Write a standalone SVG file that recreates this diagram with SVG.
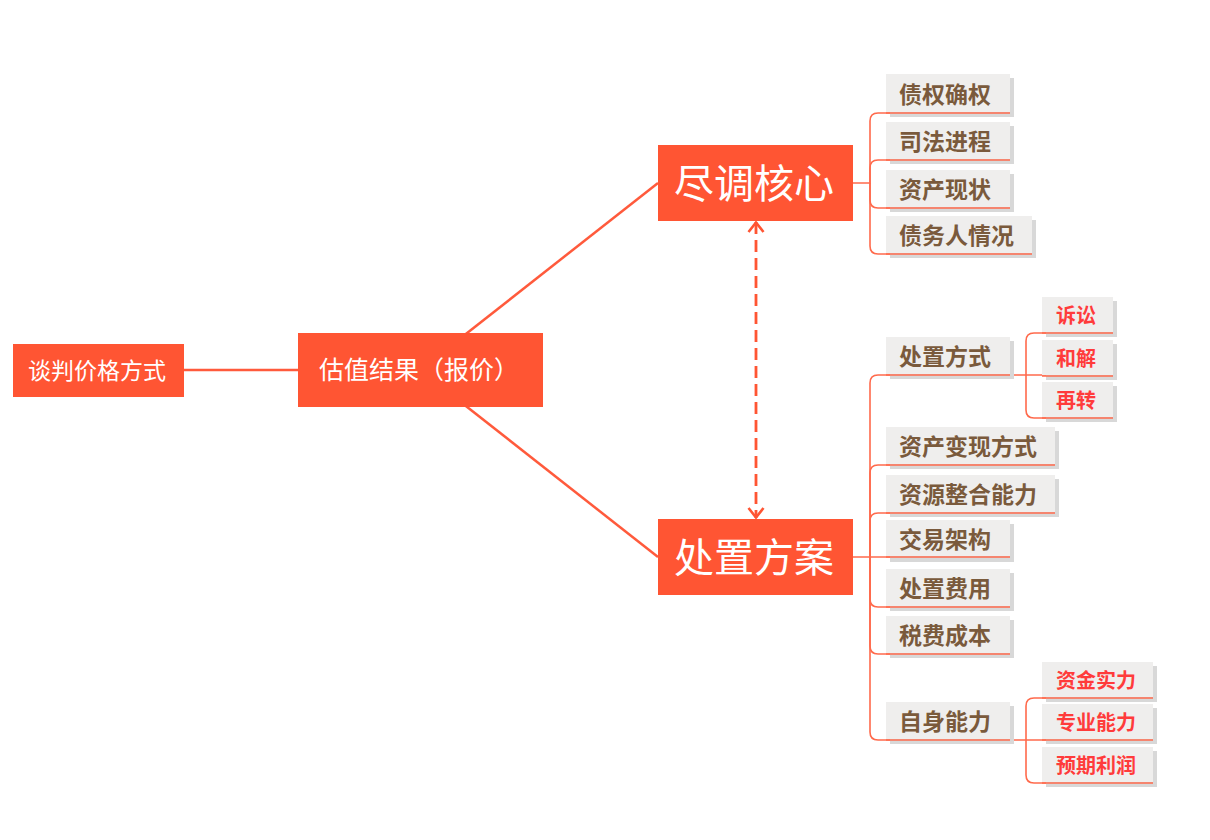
<svg xmlns="http://www.w3.org/2000/svg" width="1210" height="840" viewBox="0 0 1210 840">
<style>
.main{fill:#FF5533}
.mt{fill:#FFFFFF;font-family:"Liberation Sans","Noto Sans CJK SC",sans-serif;text-anchor:middle}
.cb{fill:#EFEEED}
.sh{fill:#D8D8D8}
.ct{fill:#7A5A3C;font-family:"Liberation Sans","Noto Sans CJK SC",sans-serif;font-size:23px;font-weight:bold}
.rt{fill:#FF3B3B;font-family:"Liberation Sans","Noto Sans CJK SC",sans-serif;font-size:20px;font-weight:bold}
.ln{fill:none;stroke:#FF5A3C;stroke-width:2.5}
.br{fill:none;stroke:#FF6A4C;stroke-width:1.6}
</style>
<defs>
<marker id="ah" viewBox="0 0 12 18" refX="11" refY="9" markerWidth="12" markerHeight="18" markerUnits="userSpaceOnUse" orient="auto-start-reverse">
<path d="M1,1.5 L10.5,9 L1,16.5" fill="none" stroke="#FF5533" stroke-width="2.6"/>
</marker>
</defs>
<rect width="1210" height="840" fill="#FFFFFF"/>
<g id="connectors">
<line class="ln" x1="184" y1="370" x2="298" y2="370"/>
<line class="ln" x1="420" y1="370" x2="658" y2="183"/>
<line class="ln" x1="420" y1="370" x2="658" y2="557"/>
<line x1="756" y1="222" x2="756" y2="518" stroke="#FF5533" stroke-width="2.8" stroke-dasharray="12,6" marker-start="url(#ah)" marker-end="url(#ah)"/>
<path class="br" d="M853,183 H870 V121 Q870,113 878,113 H1010"/>
<path class="br" d="M870,183 V168 Q870,160 878,160 H1010"/>
<path class="br" d="M870,183 V200 Q870,208 878,208 H1010"/>
<path class="br" d="M870,183 V246 Q870,254 878,254 H1032"/>
<path class="br" d="M853,557 H870 V383 Q870,375 878,375 H1026"/>
<path class="br" d="M870,557 V473 Q870,465 878,465 H1055"/>
<path class="br" d="M870,557 V521 Q870,513 878,513 H1055"/>
<path class="br" d="M870,557 H1010"/>
<path class="br" d="M870,557 V599 Q870,607 878,607 H1010"/>
<path class="br" d="M870,557 V646 Q870,654 878,654 H1010"/>
<path class="br" d="M870,557 V732 Q870,740 878,740 H1026"/>
<path class="br" d="M1026,375 V341 Q1026,333 1034,333 H1113"/>
<path class="br" d="M1026,375 H1113"/>
<path class="br" d="M1026,375 V410 Q1026,418 1034,418 H1113"/>
<path class="br" d="M1026,740 V706 Q1026,698 1034,698 H1153"/>
<path class="br" d="M1026,740 H1153"/>
<path class="br" d="M1026,740 V775 Q1026,783 1034,783 H1153"/>
</g>
<g id="n-tanpan"><rect class="main" x="13" y="344" width="171" height="53"/><text class="mt" x="97" y="379" font-size="23">谈判价格方式</text></g>
<g id="n-guzhi"><rect class="main" x="298" y="333" width="245" height="74"/><text class="mt" x="419" y="379" font-size="25">估值结果（报价）</text></g>
<g id="n-jindiao"><rect class="main" x="658" y="145" width="195" height="76"/><text class="mt" x="754" y="198" font-size="40">尽调核心</text></g>
<g id="n-chuzhi"><rect class="main" x="658" y="519" width="195" height="76"/><text class="mt" x="754" y="572" font-size="40">处置方案</text></g>

<g id="c1"><rect class="sh" x="890" y="78" width="124" height="39"/><rect class="cb" x="886" y="74" width="124" height="38"/><line class="br" x1="886" y1="113" x2="1010" y2="113"/><text class="ct" x="899" y="103">债权确权</text></g>
<g id="c2"><rect class="sh" x="890" y="126" width="124" height="38"/><rect class="cb" x="886" y="122" width="124" height="37"/><line class="br" x1="886" y1="160" x2="1010" y2="160"/><text class="ct" x="899" y="150">司法进程</text></g>
<g id="c3"><rect class="sh" x="890" y="174" width="124" height="38"/><rect class="cb" x="886" y="170" width="124" height="37"/><line class="br" x1="886" y1="208" x2="1010" y2="208"/><text class="ct" x="899" y="198">资产现状</text></g>
<g id="c4"><rect class="sh" x="890" y="220" width="146" height="38"/><rect class="cb" x="886" y="216" width="146" height="37"/><line class="br" x1="886" y1="254" x2="1032" y2="254"/><text class="ct" x="899" y="244">债务人情况</text></g>

<g id="d1"><rect class="sh" x="890" y="341" width="124" height="38"/><rect class="cb" x="886" y="337" width="124" height="37"/><line class="br" x1="886" y1="375" x2="1010" y2="375"/><text class="ct" x="899" y="365">处置方式</text></g>
<g id="d2"><rect class="sh" x="890" y="431" width="169" height="38"/><rect class="cb" x="886" y="427" width="169" height="37"/><line class="br" x1="886" y1="465" x2="1055" y2="465"/><text class="ct" x="899" y="455">资产变现方式</text></g>
<g id="d3"><rect class="sh" x="890" y="479" width="169" height="38"/><rect class="cb" x="886" y="475" width="169" height="37"/><line class="br" x1="886" y1="513" x2="1055" y2="513"/><text class="ct" x="899" y="503">资源整合能力</text></g>
<g id="d4"><rect class="sh" x="890" y="524" width="124" height="38"/><rect class="cb" x="886" y="520" width="124" height="36"/><line class="br" x1="886" y1="557" x2="1010" y2="557"/><text class="ct" x="899" y="548">交易架构</text></g>
<g id="d5"><rect class="sh" x="890" y="573" width="124" height="38"/><rect class="cb" x="886" y="569" width="124" height="37"/><line class="br" x1="886" y1="607" x2="1010" y2="607"/><text class="ct" x="899" y="597">处置费用</text></g>
<g id="d6"><rect class="sh" x="890" y="620" width="124" height="38"/><rect class="cb" x="886" y="616" width="124" height="37"/><line class="br" x1="886" y1="654" x2="1010" y2="654"/><text class="ct" x="899" y="644">税费成本</text></g>
<g id="d7"><rect class="sh" x="890" y="706" width="124" height="38"/><rect class="cb" x="886" y="702" width="124" height="37"/><line class="br" x1="886" y1="740" x2="1010" y2="740"/><text class="ct" x="899" y="730">自身能力</text></g>

<g id="s1"><rect class="sh" x="1046" y="301" width="71" height="36"/><rect class="cb" x="1042" y="297" width="71" height="35"/><line class="br" x1="1042" y1="333" x2="1113" y2="333"/><text class="rt" x="1056" y="323">诉讼</text></g>
<g id="s2"><rect class="sh" x="1046" y="344" width="71" height="36"/><rect class="cb" x="1042" y="340" width="71" height="35"/><line class="br" x1="1042" y1="376" x2="1113" y2="376"/><text class="rt" x="1056" y="366">和解</text></g>
<g id="s3"><rect class="sh" x="1046" y="386" width="71" height="36"/><rect class="cb" x="1042" y="382" width="71" height="35"/><line class="br" x1="1042" y1="418" x2="1113" y2="418"/><text class="rt" x="1056" y="408">再转</text></g>

<g id="t1"><rect class="sh" x="1046" y="666" width="111" height="36"/><rect class="cb" x="1042" y="662" width="111" height="35"/><line class="br" x1="1042" y1="698" x2="1153" y2="698"/><text class="rt" x="1056" y="688">资金实力</text></g>
<g id="t2"><rect class="sh" x="1046" y="708" width="111" height="36"/><rect class="cb" x="1042" y="704" width="111" height="35"/><line class="br" x1="1042" y1="740" x2="1153" y2="740"/><text class="rt" x="1056" y="730">专业能力</text></g>
<g id="t3"><rect class="sh" x="1046" y="751" width="111" height="36"/><rect class="cb" x="1042" y="747" width="111" height="35"/><line class="br" x1="1042" y1="783" x2="1153" y2="783"/><text class="rt" x="1056" y="773">预期利润</text></g>
</svg>
